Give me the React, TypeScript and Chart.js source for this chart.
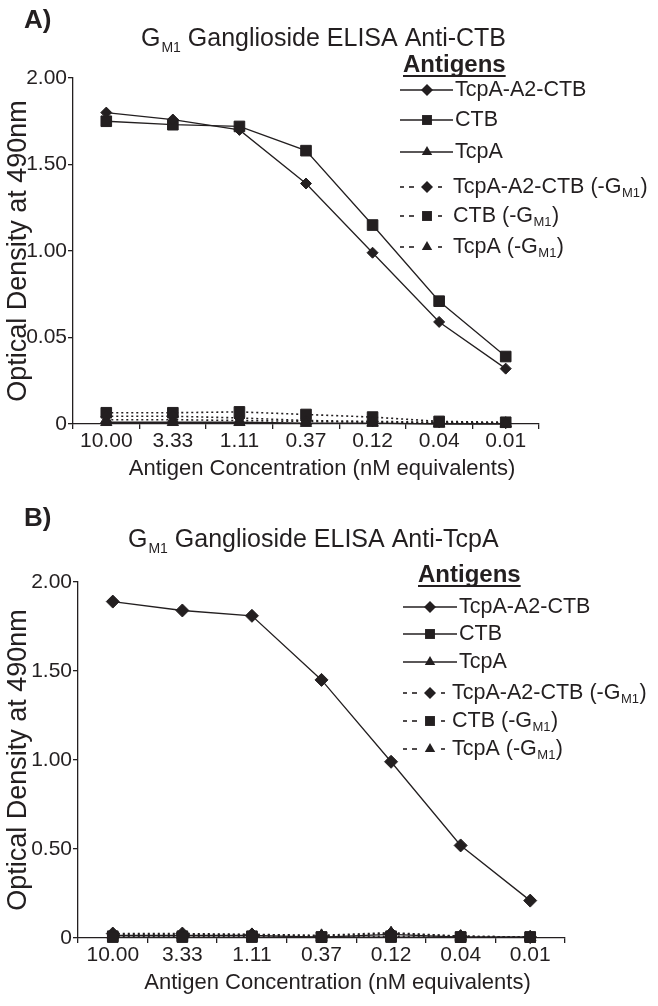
import React, { useEffect, useRef } from "react";
import { Chart, registerables } from "chart.js";

Chart.register(...registerables);

// ---------- data ----------
const categories = ["10.00", "3.33", "1.11", "0.37", "0.12", "0.04", "0.01"];
const yTickValues = [0, 0.5, 1, 1.5, 2];
const yTickLabelsA = ["0", "0.05", "1.00", "1.50", "2.00"];
const yTickLabelsB = ["0", "0.50", "1.00", "1.50", "2.00"];

const seriesLabels = [
  "TcpA-A2-CTB",
  "CTB",
  "TcpA",
  "TcpA-A2-CTB (-G_M1)",
  "CTB (-G_M1)",
  "TcpA (-G_M1)",
];

// Panel A: anti-CTB
const aTcpA2CTB = [1.8, 1.76, 1.7, 1.39, 0.99, 0.59, 0.32];
const aCTB = [1.75, 1.73, 1.72, 1.58, 1.15, 0.71, 0.39];
const aTcpA = [0.01, 0.01, 0.01, 0.005, 0.005, 0.0, 0.0];
const aTcpA2CTBneg = [0.045, 0.045, 0.035, 0.02, 0.015, 0.01, 0.005];
const aCTBneg = [0.065, 0.065, 0.07, 0.055, 0.04, 0.015, 0.01];
const aTcpAneg = [0.025, 0.025, 0.02, 0.015, 0.01, 0.005, 0.005];

// Panel B: anti-TcpA
const bTcpA2CTB = [1.89, 1.84, 1.81, 1.45, 0.99, 0.52, 0.21];
const bCTB = [0.005, 0.005, 0.005, 0.005, 0.005, 0.005, 0.005];
const bTcpA = [0.015, 0.015, 0.015, 0.005, 0.02, 0.005, 0.005];
const bTcpA2CTBneg = [0.025, 0.025, 0.02, 0.01, 0.025, 0.01, 0.005];
const bCTBneg = [0.01, 0.01, 0.01, 0.005, 0.01, 0.005, 0.005];
const bTcpAneg = [0.02, 0.02, 0.02, 0.015, 0.03, 0.01, 0.005];

const xAxisTitle = "Antigen Concentration (nM equivalents)";
const yAxisTitle = "Optical Density at 490nm";

// ---------- styles ----------
const INK = "#231f20";
const FONT = "'Liberation Sans', Arial, Helvetica, sans-serif";
const W = 658;
const H = 503;

const pointStyles = ["rectRot", "rect", "triangle", "rectRot", "rect", "triangle"];
const dashedFlags = [false, false, false, true, true, true];

type PanelCfg = {
  letter: string;
  titleRest: string;
  values: number[][];
  yLabels: string[];
  area: { left: number; right: number; top: number; bottom: number };
  yTitleSize: number;
  yTitlePad: number;
  letterPos: { x: number; y: number };
  titlePos: { x: number; y: number };
  legend: {
    headX: number;
    headY: number;
    rows: number[];
    lineX0: number;
    lineX1: number;
    markX: number;
    textX: number;
    dashTextX: number;
  };
  radii: number[];
};

const panels: PanelCfg[] = [
  {
    letter: "A)",
    titleRest: " Ganglioside ELISA Anti-CTB",
    values: [aTcpA2CTB, aCTB, aTcpA, aTcpA2CTBneg, aCTBneg, aTcpAneg],
    yLabels: yTickLabelsA,
    area: { left: 73, right: 539, top: 78, bottom: 424 },
    yTitleSize: 27,
    yTitlePad: 2,
    letterPos: { x: 24, y: 21 },
    titlePos: { x: 141, y: 46 },
    legend: {
      headX: 403,
      headY: 65,
      rows: [90, 120, 152, 187, 216, 247],
      lineX0: 400,
      lineX1: 453,
      markX: 427,
      textX: 455,
      dashTextX: 453,
    },
    radii: [5.5, 7.5, 6.5, 5.5, 7.5, 6.5],
  },
  {
    letter: "B)",
    titleRest: " Ganglioside ELISA Anti-TcpA",
    values: [bTcpA2CTB, bCTB, bTcpA, bTcpA2CTBneg, bCTBneg, bTcpAneg],
    yLabels: yTickLabelsB,
    area: { left: 78, right: 565, top: 79, bottom: 435 },
    yTitleSize: 27,
    yTitlePad: 2,
    letterPos: { x: 24, y: 16 },
    titlePos: { x: 128, y: 44 },
    legend: {
      headX: 418,
      headY: 72,
      rows: [104, 131, 159, 190, 218, 246],
      lineX0: 403,
      lineX1: 457,
      markX: 430,
      textX: 459,
      dashTextX: 452,
    },
    radii: [6.5, 7.5, 6.5, 6.5, 7.5, 6.5],
  },
];

// ---------- drawing helpers ----------
function drawMarker(ctx: CanvasRenderingContext2D, style: string, x: number, y: number, r: number) {
  ctx.beginPath();
  if (style === "rectRot") {
    ctx.moveTo(x - r, y);
    ctx.lineTo(x, y - r);
    ctx.lineTo(x + r, y);
    ctx.lineTo(x, y + r);
  } else if (style === "rect") {
    const s = r * Math.SQRT1_2;
    ctx.rect(x - s, y - s, 2 * s, 2 * s);
  } else {
    for (let i = 0; i < 3; i++) {
      const a = (i * 2 * Math.PI) / 3;
      const px = x + Math.sin(a) * r;
      const py = y - Math.cos(a) * r;
      if (i === 0) ctx.moveTo(px, py);
      else ctx.lineTo(px, py);
    }
  }
  ctx.closePath();
  ctx.fillStyle = INK;
  ctx.fill();
}

function drawSubText(
  ctx: CanvasRenderingContext2D,
  text: string,
  x: number,
  y: number,
  size: number,
  subSize: number,
  subDrop: number
) {
  const parts = text.split("_M1");
  ctx.textBaseline = "middle";
  ctx.textAlign = "left";
  ctx.fillStyle = INK;
  let cx = x;
  parts.forEach((p, i) => {
    ctx.font = `${size}px ${FONT}`;
    ctx.fillText(p, cx, y);
    cx += ctx.measureText(p).width;
    if (i < parts.length - 1) {
      ctx.font = `${subSize}px ${FONT}`;
      ctx.fillText("M1", cx + 0.5, y + subDrop);
      cx += ctx.measureText("M1").width + 1;
    }
  });
}

function makeDecorPlugin(cfg: PanelCfg) {
  return {
    id: "decor",
    afterDraw(chart: Chart) {
      const ctx = chart.ctx;
      const ca = chart.chartArea;
      ctx.save();
      ctx.fillStyle = INK;
      // panel letter
      ctx.font = `bold 26px ${FONT}`;
      ctx.textBaseline = "middle";
      ctx.textAlign = "left";
      ctx.fillText(cfg.letter, cfg.letterPos.x, cfg.letterPos.y);
      // title  G_M1 ...
      ctx.textBaseline = "alphabetic";
      ctx.font = `25px ${FONT}`;
      ctx.fillText("G", cfg.titlePos.x, cfg.titlePos.y);
      let tx = cfg.titlePos.x + ctx.measureText("G").width;
      ctx.font = `14px ${FONT}`;
      ctx.fillText("M1", tx + 1, cfg.titlePos.y + 6);
      tx += ctx.measureText("M1").width + 1;
      ctx.font = `25px ${FONT}`;
      ctx.fillText(cfg.titleRest, tx, cfg.titlePos.y);

      // x-axis title
      ctx.font = `22px ${FONT}`;
      ctx.textAlign = "center";
      ctx.textBaseline = "middle";
      ctx.fillText(xAxisTitle, (ca.left + ca.right) / 2 + 16, ca.bottom + 45);
      ctx.textAlign = "left";

      // legend header
      const lg = cfg.legend;
      ctx.font = `bold 24px ${FONT}`;
      ctx.textBaseline = "middle";
      ctx.fillText("Antigens", lg.headX, lg.headY);
      const hw = ctx.measureText("Antigens").width;
      ctx.fillRect(lg.headX, lg.headY + 10, hw, 2);

      // legend rows
      lg.rows.forEach((ry, i) => {
        ctx.strokeStyle = INK;
        ctx.lineWidth = 1.4;
        if (!dashedFlags[i]) {
          ctx.setLineDash([]);
          ctx.beginPath();
          ctx.moveTo(lg.lineX0, ry);
          ctx.lineTo(lg.lineX1, ry);
          ctx.stroke();
          drawMarker(ctx, pointStyles[i], lg.markX, ry, i === 1 ? 7 : 6);
          drawSubText(ctx, seriesLabels[i], lg.textX, ry, 21.5, 13, 6);
        } else {
          ctx.lineWidth = 1.6;
          const segs = [
            [lg.lineX0, lg.lineX0 + 4],
            [lg.lineX0 + 9, lg.lineX0 + 14],
            [lg.markX + 11, lg.markX + 15],
          ];
          segs.forEach(([a, b]) => {
            ctx.beginPath();
            ctx.moveTo(a, ry);
            ctx.lineTo(b, ry);
            ctx.stroke();
          });
          drawMarker(ctx, pointStyles[i], lg.markX, ry, i === 4 ? 7 : 6);
          drawSubText(ctx, seriesLabels[i], lg.dashTextX, ry, 21.5, 13, 6);
        }
      });
      ctx.restore();
    },
  };
}

function Panel({ cfg }: { cfg: PanelCfg }) {
  const ref = useRef<HTMLCanvasElement>(null);
  useEffect(() => {
    const canvas = ref.current;
    if (!canvas) return;
    const a = cfg.area;
    const datasets = cfg.values.map((vals, i) => ({
      label: seriesLabels[i],
      data: vals,
      borderColor: INK,
      backgroundColor: INK,
      borderWidth: dashedFlags[i] ? 1.6 : 1.3,
      borderDash: dashedFlags[i] ? [2, 3] : [],
      pointStyle: pointStyles[i] as any,
      pointRadius: cfg.radii[i],
      pointBackgroundColor: INK,
      pointBorderColor: INK,
      pointBorderWidth: 1,
      tension: 0,
      clip: false as any,
    }));
    const chart = new Chart(canvas, {
      type: "line",
      data: { labels: categories, datasets },
      plugins: [makeDecorPlugin(cfg)],
      options: {
        responsive: false,
        animation: false,
        events: [],
        layout: {
          padding: { left: 0, top: a.top, right: W - a.right, bottom: 0 },
        },
        plugins: {
          legend: { display: false },
          tooltip: { enabled: false },
          title: { display: false },
        },
        scales: {
          x: {
            type: "category",
            offset: true,
            grid: {
              display: true,
              offset: true,
              drawOnChartArea: false,
              drawTicks: true,
              tickLength: 5,
              color: INK,
              lineWidth: 1.3,
            },
            border: { display: true, color: INK, width: 1.3 },
            ticks: {
              color: INK,
              font: { family: FONT, size: 21 },
              padding: 0,
              maxRotation: 0,
              autoSkip: false,
            },
            title: { display: false },
            afterFit: (s: any) => {
              s.height = H - a.bottom;
            },
          },
          y: {
            type: "linear",
            min: 0,
            max: 2,
            afterBuildTicks: (s: any) => {
              s.ticks = yTickValues.map((v) => ({ value: v }));
            },
            grid: {
              display: true,
              drawOnChartArea: false,
              drawTicks: true,
              tickLength: 5,
              color: INK,
              lineWidth: 1.3,
            },
            border: { display: true, color: INK, width: 1.3 },
            ticks: {
              color: INK,
              font: { family: FONT, size: 21 },
              padding: 1,
              callback: (_v: any, i: number) => cfg.yLabels[i],
            },
            title: {
              display: true,
              text: yAxisTitle,
              color: INK,
              font: { family: FONT, size: cfg.yTitleSize, lineHeight: 1.2 },
              padding: { top: cfg.yTitlePad, bottom: 0 },
            },
            afterFit: (s: any) => {
              s.width = a.left;
            },
          },
        },
      },
    });
    return () => chart.destroy();
  }, [cfg]);
  return (
    <canvas
      ref={ref}
      width={W}
      height={H}
      style={{ display: "block", width: W, height: H }}
    />
  );
}

export default function App() {
  return (
    <div
      style={{
        position: "absolute",
        left: 0,
        top: 0,
        width: W,
        height: 1006,
        background: "#fff",
      }}
    >
      {panels.map((p) => (
        <Panel key={p.letter} cfg={p} />
      ))}
    </div>
  );
}
